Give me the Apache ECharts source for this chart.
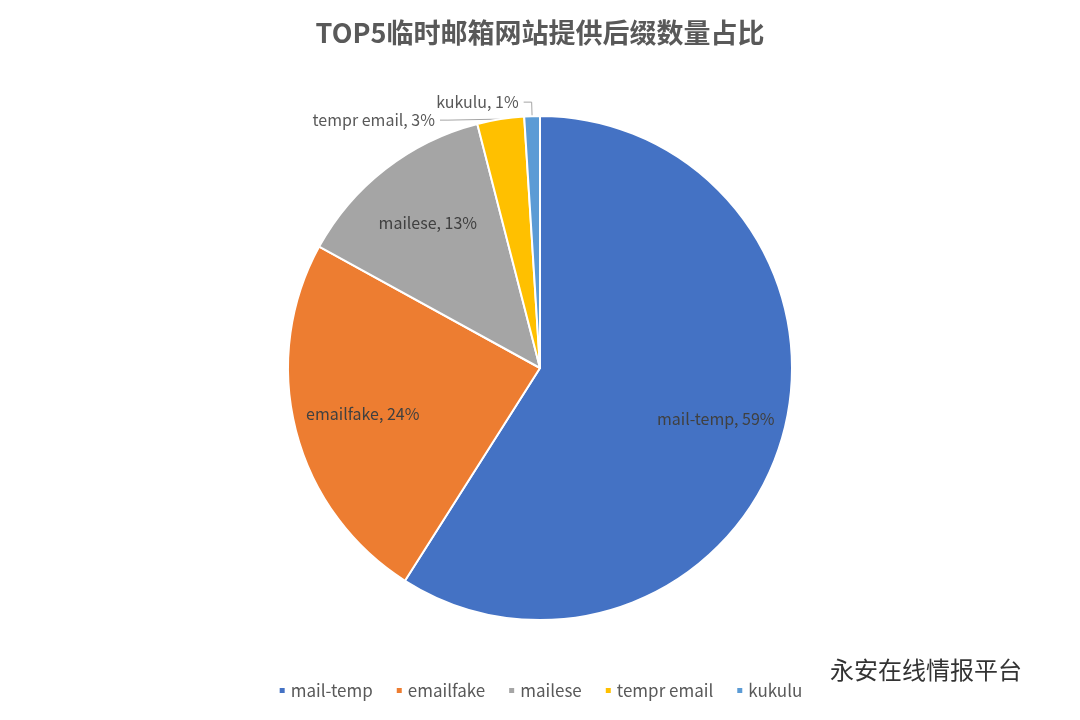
<!DOCTYPE html>
<html><head><meta charset="utf-8">
<script src="https://cdn.jsdelivr.net/npm/echarts@6/dist/echarts.min.js"></script>
<style>html,body{margin:0;background:#fff}#c{width:1080px;height:720px}</style>
</head><body><div id="c"></div>
<script>
const categories=['mail-temp','emailfake','mailese','tempr email','kukulu'];
const values=[59,24,13,3,1];
const colors=['#4472C4','#ED7D31','#A5A5A5','#FFC000','#5B9BD5'];
const font='"Noto Sans CJK SC","Noto Sans",sans-serif';
const chart=echarts.init(document.getElementById('c'));
const data=categories.map((n,i)=>({name:n,value:values[i],itemStyle:{color:colors[i]},
  label:{show:i>=3},labelLine:{show:i>=3}}));
const data2=categories.map((n,i)=>({name:n,value:values[i],label:{show:i<3}}));
chart.setOption({
  title:{text:'TOP5临时邮箱网站提供后缀数量占比',left:'center',top:14,
    textStyle:{fontFamily:font,fontSize:27,fontWeight:'bold',color:'#595959'}},
  legend:{bottom:16,left:'center',icon:'rect',itemWidth:7,itemHeight:7,itemGap:22,
    data:categories,textStyle:{fontFamily:font,fontSize:17,color:'#595959'}},
  graphic:[{type:'text',left:830,top:658,style:{text:'永安在线情报平台',fontFamily:font,fontSize:24,fill:'#333'}}],
  series:[{type:'pie',center:[540,368],radius:[0,252],startAngle:90,clockwise:true,
    itemStyle:{borderColor:'#fff',borderWidth:2},
    label:{formatter:'{b}, {d}%',fontFamily:font,fontSize:16,color:'#595959'},
    labelLine:{length:14,length2:8,lineStyle:{color:'#A5A5A5'}},
    data:data},
   {type:'pie',center:[540,368],radius:[0,360],startAngle:90,clockwise:true,silent:true,
    itemStyle:{color:'rgba(0,0,0,0)'},
    label:{position:'inside',formatter:'{b}, {d}%',fontFamily:font,fontSize:16,color:'#404040'},
    data:data2}]
});
</script></body></html>
